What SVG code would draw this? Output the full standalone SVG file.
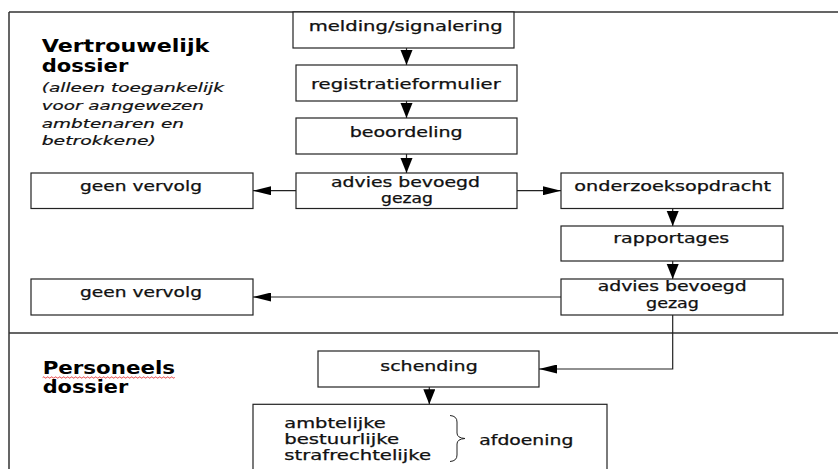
<svg xmlns="http://www.w3.org/2000/svg" width="838" height="469" viewBox="0 0 838 469">
<style>
.frame{stroke:#333;stroke-width:1.5;fill:none}
.box{fill:#fff;stroke:#222;stroke-width:1.2}
.t{font-family:"DejaVu Sans","Verdana",sans-serif;font-size:13.5px;fill:#111;stroke:#111;stroke-width:0.25}
.h{font-family:"DejaVu Sans","Verdana",sans-serif;font-size:18px;font-weight:bold;fill:#000}
.i{font-family:"DejaVu Sans","Verdana",sans-serif;font-size:12.5px;font-style:italic;fill:#111;stroke:#111;stroke-width:0.2}
.c{stroke:#222;stroke-width:1.2;fill:none}
.v{marker-end:url(#av)}
.hz{marker-end:url(#ah)}
</style>
<defs>
<marker id="av" markerUnits="userSpaceOnUse" markerWidth="16" markerHeight="13" refX="15" refY="6" orient="auto" viewBox="0 0 16 13">
<path d="M0,0 L15,6 L0,12 Z" fill="#000"/>
</marker>
<marker id="ah" markerUnits="userSpaceOnUse" markerWidth="19" markerHeight="9" refX="18" refY="4.5" orient="auto" viewBox="0 0 19 9">
<path d="M0,0 L18,4.5 L0,9 Z" fill="#000"/>
</marker>
</defs>

<g id="frame">
<path class="frame" d="M9,12 H838 M9,12 V469 M9,333 H838"/>
</g>

<g id="title-vertrouwelijk">
<text class="h" x="41.7" y="51.7" textLength="167.6" lengthAdjust="spacingAndGlyphs">Vertrouwelijk</text>
<text class="h" x="41.7" y="71.7" textLength="86.6" lengthAdjust="spacingAndGlyphs">dossier</text>
<text class="i" x="41.7" y="92" textLength="182.3" lengthAdjust="spacingAndGlyphs">(alleen toegankelijk</text>
<text class="i" x="41.7" y="110.3" textLength="162.3" lengthAdjust="spacingAndGlyphs">voor aangewezen</text>
<text class="i" x="41.7" y="127.7" textLength="142.3" lengthAdjust="spacingAndGlyphs">ambtenaren en</text>
<text class="i" x="41.7" y="145" textLength="114.3" lengthAdjust="spacingAndGlyphs">betrokkene)</text>
</g>

<g id="title-personeels">
<text class="h" x="42.7" y="374" textLength="132.3" lengthAdjust="spacingAndGlyphs">Personeels</text>
<path d="M42.7,377.5 q1,-1.2 2,0 t2,0 t2,0 t2,0 t2,0 t2,0 t2,0 t2,0 t2,0 t2,0 t2,0 t2,0 t2,0 t2,0 t2,0 t2,0 t2,0 t2,0 t2,0 t2,0 t2,0 t2,0 t2,0 t2,0 t2,0 t2,0 t2,0 t2,0 t2,0 t2,0 t2,0 t2,0 t2,0 t2,0 t2,0 t2,0 t2,0 t2,0 t2,0 t2,0 t2,0 t2,0 t2,0 t2,0 t2,0 t2,0 t2,0 t2,0 t2,0 t2,0 t2,0 t2,0 t2,0 t2,0 t2,0 t2,0 t2,0 t2,0 t2,0 t2,0 t2,0 t2,0 t2,0 t2,0 t2,0 t2,0" fill="none" stroke="#e02020" stroke-width="0.9"/>
<text class="h" x="42.7" y="393.3" textLength="85.6" lengthAdjust="spacingAndGlyphs">dossier</text>
</g>

<g id="connectors">
<path class="c v" d="M406.5,48 V65"/>
<path class="c v" d="M406.5,101 V118"/>
<path class="c v" d="M406.5,154 V173"/>
<path class="c hz" d="M296,190.7 H253"/>
<path class="c hz" d="M517,190.7 H561"/>
<path class="c v" d="M672.7,208.5 V226"/>
<path class="c v" d="M672.7,261 V279"/>
<path class="c hz" d="M561,297 H253"/>
<path class="c hz" d="M672.7,315 V369 H539"/>
<path class="c v" d="M429.3,387 V404.3"/>
</g>

<g id="n-melding">
<rect class="box" x="293" y="12" width="221" height="36"/>
<text class="t" x="308.7" y="31" textLength="194" lengthAdjust="spacingAndGlyphs">melding/signalering</text>
</g>
<g id="n-registratie">
<rect class="box" x="296" y="65" width="221" height="36"/>
<text class="t" x="311" y="88.5" textLength="189.7" lengthAdjust="spacingAndGlyphs">registratieformulier</text>
</g>
<g id="n-beoordeling">
<rect class="box" x="296" y="118" width="221" height="36"/>
<text class="t" x="349.7" y="136.7" textLength="113" lengthAdjust="spacingAndGlyphs">beoordeling</text>
</g>
<g id="n-advies1">
<rect class="box" x="296" y="173" width="221" height="35.5"/>
<text class="t" x="331" y="186.7" textLength="149" lengthAdjust="spacingAndGlyphs">advies bevoegd</text>
<text class="t" x="381" y="203.3" textLength="52" lengthAdjust="spacingAndGlyphs">gezag</text>
</g>
<g id="n-geen1">
<rect class="box" x="31" y="173" width="222" height="35.5"/>
<text class="t" x="80" y="191" textLength="122" lengthAdjust="spacingAndGlyphs">geen vervolg</text>
</g>
<g id="n-onderzoek">
<rect class="box" x="561" y="173" width="222" height="35.5"/>
<text class="t" x="574.3" y="190.7" textLength="196.7" lengthAdjust="spacingAndGlyphs">onderzoeksopdracht</text>
</g>
<g id="n-rapportages">
<rect class="box" x="561" y="226" width="222" height="35"/>
<text class="t" x="613.3" y="243.3" textLength="116" lengthAdjust="spacingAndGlyphs">rapportages</text>
</g>
<g id="n-advies2">
<rect class="box" x="561" y="279" width="222" height="36"/>
<text class="t" x="597.7" y="291" textLength="149" lengthAdjust="spacingAndGlyphs">advies bevoegd</text>
<text class="t" x="646" y="308.3" textLength="53" lengthAdjust="spacingAndGlyphs">gezag</text>
</g>
<g id="n-geen2">
<rect class="box" x="31" y="279" width="222" height="36"/>
<text class="t" x="80" y="297.3" textLength="122" lengthAdjust="spacingAndGlyphs">geen vervolg</text>
</g>
<g id="n-schending">
<rect class="box" x="318" y="351" width="221" height="36"/>
<text class="t" x="380.3" y="370.7" textLength="97.4" lengthAdjust="spacingAndGlyphs">schending</text>
</g>
<g id="n-afdoening">
<rect class="box" x="253" y="404.3" width="354" height="80"/>
<text class="t" x="284.3" y="427.5" textLength="101.4" lengthAdjust="spacingAndGlyphs">ambtelijke</text>
<text class="t" x="284.3" y="444" textLength="114.7" lengthAdjust="spacingAndGlyphs">bestuurlijke</text>
<text class="t" x="284.3" y="460" textLength="146.7" lengthAdjust="spacingAndGlyphs">strafrechtelijke</text>
<path d="M450,415.5 Q457,416 457,422 V433 Q457,438 465,438.5 Q457,439 457,444 V455 Q457,461 450,461.5" fill="none" stroke="#222" stroke-width="1"/>
<text class="t" x="479.3" y="445" textLength="94" lengthAdjust="spacingAndGlyphs">afdoening</text>
</g>
</svg>
